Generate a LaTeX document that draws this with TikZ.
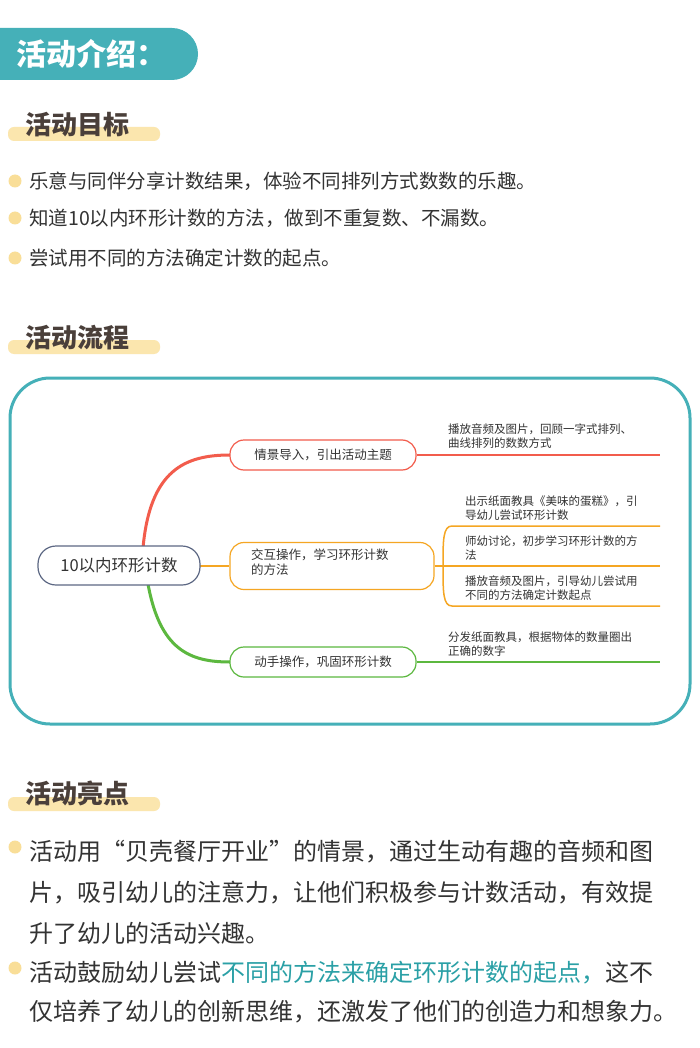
\documentclass[tikz,border=0pt]{standalone}
\usepackage{fontspec}
\setmainfont{Noto Sans CJK SC}
\definecolor{teal1}{HTML}{45B0B8}
\definecolor{ylw}{HTML}{FBE6AE}
\definecolor{ylwdot}{HTML}{F9DE98}
\definecolor{ttl}{HTML}{4A3F3A}
\definecolor{txt}{HTML}{333333}
\definecolor{mred}{HTML}{F25C4C}
\definecolor{mora}{HTML}{F5A623}
\definecolor{mgrn}{HTML}{5CB83F}
\definecolor{hl}{HTML}{2AA0A6}
\definecolor{cgray}{HTML}{5D6884}
\begin{document}
\begin{tikzpicture}[x=1pt,y=-1pt,
  sect/.style={anchor=south west,inner sep=0,text=ttl,font=\fontsize{26}{26}\selectfont\bfseries},
  body/.style={anchor=west,inner sep=0,text=txt,font=\fontsize{19.5}{20}\selectfont},
  body2/.style={anchor=west,inner sep=0,text=txt,font=\fontsize{24}{26}\selectfont},
  dot/.style={fill=ylwdot,draw=none},
  mm/.style={anchor=west,inner sep=0,text=txt,font=\fontsize{11.5}{14}\selectfont,align=left},
  mbox/.style={draw,rounded corners=14pt,line width=1.2pt,fill=white}]
\useasboundingbox (0,0) rectangle (700,1048);
\fill[white] (0,0) rectangle (700,1048);
% header
\begin{scope}
\clip (0,0) rectangle (700,1048);
\fill[teal1,rounded corners=26pt] (-40,28) rectangle (198,80);
\end{scope}
\node[anchor=west,inner sep=0,text=white,font=\fontsize{30}{30}\selectfont\bfseries] (hd) at (16,54) {活动介绍：};
% section 1
\fill[ylw,rounded corners=6pt] (8,127) rectangle (160,141);
\node[sect] (s1) at (25,137) {活动目标};
\foreach \y/\t [count=\i] in {181/{乐意与同伴分享计数结果，体验不同排列方式数数的乐趣。},218/{知道10以内环形计数的方法，做到不重复数、不漏数。},258/{尝试用不同的方法确定计数的起点。}}{
  \fill[dot] (15,\y) circle (6.5);
  \node[body] (b\i) at (29,\y) {\t};
}
% section 2
\fill[ylw,rounded corners=6pt] (8,340) rectangle (160,354);
\node[sect] (s2) at (25,350) {活动流程};
\draw[teal1,line width=3pt,rounded corners=40pt] (10,378) rectangle (690,724);
% mind map
\node[mbox,draw=mora] (n2) at (332,566) [minimum width=204pt,minimum height=47pt] {};
\node[mm,anchor=north west,font=\fontsize{12.5}{15}\selectfont] at (251,549) {交互操作，学习环形计数\\的方法};
\draw[mred,line width=3pt] (143,548) .. controls (150,470) and (185,455) .. (230,455);
\draw[mgrn,line width=3pt] (148,584) .. controls (160,650) and (190,662) .. (230,662);
\draw[mora,line width=1.5pt] (200,566) -- (n2.west);
\node[draw=cgray,line width=1.2pt,rounded corners=18pt,minimum width=162pt,minimum height=39pt,fill=white,font=\fontsize{16.5}{16}\selectfont,text=txt] (c) at (119,565.5) {10以内环形计数};
\node[mbox,draw=mred,minimum width=186pt,minimum height=30pt,font=\fontsize{12.5}{14}\selectfont,text=txt] (n1) at (323,455) {情景导入，引出活动主题};
\node[mbox,draw=mgrn,minimum width=186pt,minimum height=30pt,font=\fontsize{12.5}{14}\selectfont,text=txt] (n3) at (323,662) {动手操作，巩固环形计数};
\draw[mred,line width=1.5pt] (n1.east) -- (660,455);
\draw[mgrn,line width=1.5pt] (n3.east) -- (660,662);
\draw[mora,line width=1.5pt] (660,526) -- (452,526) .. controls (443,526) and (443,540) .. (443,566) .. controls (443,592) and (443,606) .. (452,606) -- (660,606);
\draw[mora,line width=1.5pt] (n2.east) -- (660,566);
\node[mm] (t1) at (448,436) {播放音频及图片，回顾一字式排列、\\曲线排列的数数方式};
\node[mm] (t2) at (465,508) {出示纸面教具《美味的蛋糕》，引\\导幼儿尝试环形计数};
\node[mm] (t3) at (465,548) {师幼讨论，初步学习环形计数的方\\法};
\node[mm] (t4) at (465,588) {播放音频及图片，引导幼儿尝试用\\不同的方法确定计数起点};
\node[mm] (t5) at (448,644) {分发纸面教具，根据物体的数量圈出\\正确的数字};
% section 3
\fill[ylw,rounded corners=6pt] (8,797) rectangle (160,811);
\node[sect] (s3) at (25,806) {活动亮点};
\fill[dot] (15,847) circle (6.5);
\fill[dot] (15,968) circle (6.5);
\node[body2] (p1) at (29,852) {活动用“贝壳餐厅开业”的情景，通过生动有趣的音频和图};
\node[body2] (p2) at (29,893) {片，吸引幼儿的注意力，让他们积极参与计数活动，有效提};
\node[body2] (p3) at (29,933) {升了幼儿的活动兴趣。};
\node[body2] (p4) at (29,973) {活动鼓励幼儿尝试\textcolor{hl}{不同的方法来确定环形计数的起点，}这不};
\node[body2] (p5) at (29,1012) {仅培养了幼儿的创新思维，还激发了他们的创造力和想象力。};
\end{tikzpicture}
\end{document}
